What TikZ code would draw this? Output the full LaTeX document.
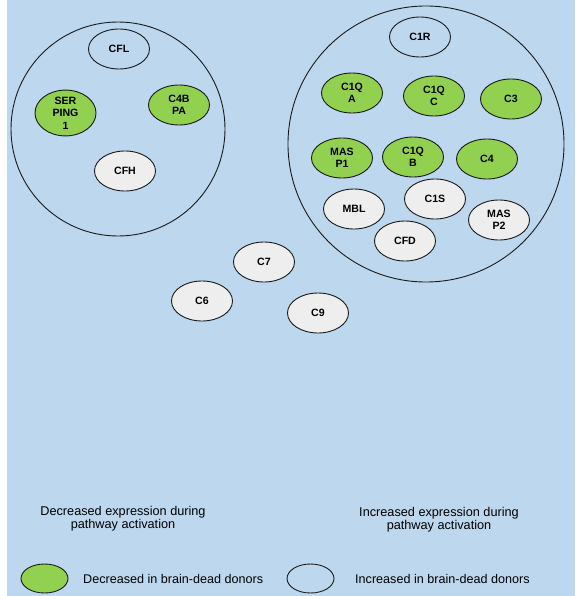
\documentclass[tikz,border=0pt]{standalone}
\usepackage{fontspec}
\setmainfont{Liberation Sans}
\usetikzlibrary{shapes.geometric}

\definecolor{panelblue}{HTML}{BDD7EE}
\definecolor{downgreen}{HTML}{92D050}
\definecolor{upgray}{HTML}{EEEEEE}
\definecolor{edgeline}{HTML}{1A1A1A}

\tikzset{
  gene/.style={ellipse, draw=edgeline, line width=0.9pt, minimum width=61pt,
    minimum height=40pt, inner sep=0pt, align=center,
    font=\bfseries\fontsize{10.6}{12.5}\selectfont},
  down/.style={gene, fill=downgreen},
  up/.style={gene, fill=upgray},
  plain/.style={gene},
  group/.style={circle, draw=edgeline, line width=0.9pt, inner sep=0pt},
  keyshape/.style={ellipse, draw=edgeline, line width=0.9pt, minimum width=47pt,
    minimum height=29pt, inner sep=0pt},
  caption/.style={align=center, font=\fontsize{12.7}{13.5}\selectfont},
  keytext/.style={anchor=west, inner sep=0pt, font=\fontsize{12.6}{14}\selectfont}
}

\begin{document}
\begin{tikzpicture}[x=1pt,y=-1pt]
  \useasboundingbox (0,0) rectangle (575,596);
  \fill[white] (0,0) rectangle (575,596);
  \fill[panelblue] (7,0) rectangle (575,596);

  % regulator group
  \node[group, minimum size=214pt] (leftgroup) at (118,129) {};
  \node[plain] (cfl) at (119,49) {CFL};
  \node[down] (serping) at (65.5,113) {SER\\PING\\1};
  \node[down] (c4bpa) at (179,105) {C4B\\PA};
  \node[up] (cfh) at (125,171) {CFH};

  % activation group
  \node[group, minimum size=276pt] (rightgroup) at (426,144) {};
  \node[plain] (c1r) at (420,37) {C1R};
  \node[down] (c1qa) at (352,93) {C1Q\\A};
  \node[down] (c1qc) at (434,96) {C1Q\\C};
  \node[down] (c3) at (511,99) {C3};
  \node[down] (masp1) at (342,158) {MAS\\P1};
  \node[down] (c1qb) at (413,157) {C1Q\\B};
  \node[down] (c4) at (487,159) {C4};
  \node[up] (mbl) at (354,209) {MBL};
  \node[up] (c1s) at (435,199) {C1S};
  \node[up] (masp2) at (499,220) {MAS\\P2};
  \node[up] (cfd) at (405,241) {CFD};

  % terminal components
  \node[up] (c7) at (264,262) {C7};
  \node[up] (c6) at (202,301) {C6};
  \node[up] (c9) at (318,313) {C9};

  % captions
  \node[caption] (capleft) at (123,518.5) {Decreased expression during\\pathway activation};
  \node[caption] (capright) at (439,519.5) {Increased expression during\\pathway activation};

  % key
  \node[keyshape, fill=downgreen] (keydown) at (44.5,578.5) {};
  \node[keytext] (keydowntext) at (83,579) {Decreased in brain-dead donors};
  \node[keyshape] (keyup) at (310.5,578.5) {};
  \node[keytext] (keyuptext) at (355,579) {Increased in brain-dead donors};
\end{tikzpicture}
\end{document}
